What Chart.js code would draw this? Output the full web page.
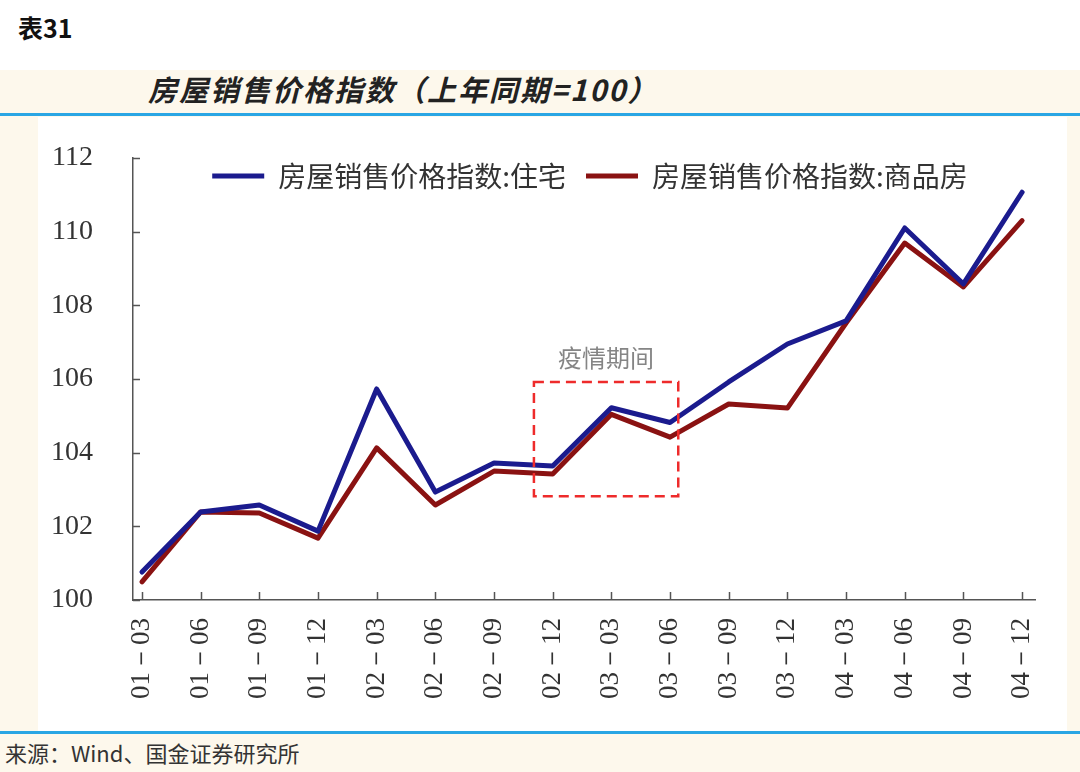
<!DOCTYPE html>
<html>
<head>
<meta charset="utf-8">
<script src="https://cdn.jsdelivr.net/npm/chart.js@4.4.1/dist/chart.umd.min.js"></script>
<style>
  body { margin: 0; width: 1080px; height: 772px; background: #fff; position: relative; overflow: hidden;
         font-family: "Noto Sans CJK SC", sans-serif; }
  .tag { position: absolute; left: 18px; top: 9px; font-size: 25px; font-weight: bold; color: #111; line-height: 36px; }
  .panel { position: absolute; left: 0; top: 70px; width: 1080px; height: 702px; background: #fdf8ec; }
  .title { position: absolute; left: 148px; top: 68px; height: 43px; line-height: 40px; font-size: 29px;
           font-weight: bold; font-style: italic; color: #222; letter-spacing: 2px; }
  .rule { position: absolute; left: 0; width: 1080px; height: 3px; background: #2aa6e4; }
  .plot { position: absolute; left: 38px; top: 117px; width: 1029px; height: 614px; background: #fff; }
  .source { position: absolute; left: 5px; top: 736px; font-size: 22px; color: #333; line-height: 32px; }
</style>
</head>
<body>
<div class="tag">表31</div>
<div class="panel"></div>
<div class="title">房屋销售价格指数（上年同期=100）</div>
<div class="rule" style="top:113px"></div>
<div class="plot"><canvas id="chart" width="1029" height="614"></canvas></div>
<div class="rule" style="top:731px"></div>
<div class="source">来源：Wind、国金证券研究所</div>
<script>
// quarters (yy-mm)
var labels = ['01-03', '01-06', '01-09', '01-12', '02-03', '02-06', '02-09', '02-12',
              '03-03', '03-06', '03-09', '03-12', '04-03', '04-06', '04-09', '04-12'];
// 房屋销售价格指数:住宅
var residential = [100.76, 102.39, 102.58, 101.87, 105.73, 102.93, 103.72, 103.64,
                   105.22, 104.82, 105.92, 106.95, 107.58, 110.10, 108.58, 111.07];
// 房屋销售价格指数:商品房
var commercial = [100.49, 102.39, 102.36, 101.68, 104.13, 102.58, 103.50, 103.42,
                  105.04, 104.42, 105.32, 105.21, 107.52, 109.69, 108.50, 110.30];
var seriesNames = ['房屋销售价格指数:住宅', '房屋销售价格指数:商品房'];
var yMin = 100, yMax = 112, yStep = 2;
// dashed box marking the epidemic period, in data units
var epidemic = { xMin: 6.68, xMax: 9.14, yMin: 102.82, yMax: 105.92, text: '疫情期间' };

var serif = '"Liberation Serif", "Times New Roman", serif';
var axisColor = '#555';
var noColor = 'rgba(0,0,0,0)';

function toPoints(arr) {
  return arr.map(function (v, i) { return { x: i, y: v }; });
}

// small tick marks drawn on the inside of both axes
var innerTicks = {
  id: 'innerTicks',
  afterDraw: function (chart) {
    var ctx = chart.ctx, xs = chart.scales.x, ys = chart.scales.y, a = chart.chartArea;
    ctx.save();
    ctx.strokeStyle = axisColor;
    ctx.lineWidth = 1.5;
    ctx.beginPath();
    labels.forEach(function (l, i) {
      var px = Math.round(xs.getPixelForValue(i)) + 0.5;
      ctx.moveTo(px, a.bottom);
      ctx.lineTo(px, a.bottom - 8);
    });
    for (var v = yMin; v <= yMax; v += yStep) {
      var py = Math.round(ys.getPixelForValue(v)) + 0.5;
      ctx.moveTo(a.left, py);
      ctx.lineTo(a.left + 7, py);
    }
    ctx.stroke();
    ctx.restore();
  }
};

var epidemicBox = {
  id: 'epidemicBox',
  afterDatasetsDraw: function (chart) {
    var ctx = chart.ctx, xs = chart.scales.x, ys = chart.scales.y;
    var x1 = xs.getPixelForValue(epidemic.xMin), x2 = xs.getPixelForValue(epidemic.xMax);
    var y1 = ys.getPixelForValue(epidemic.yMax), y2 = ys.getPixelForValue(epidemic.yMin);
    ctx.save();
    ctx.strokeStyle = '#ee2b2b';
    ctx.lineWidth = 2.5;
    ctx.setLineDash([10, 6]);
    ctx.strokeRect(x1, y1, x2 - x1, y2 - y1);
    ctx.setLineDash([]);
    ctx.fillStyle = '#858585';
    ctx.font = '24px "Noto Sans CJK SC", sans-serif';
    ctx.textAlign = 'center';
    ctx.textBaseline = 'middle';
    ctx.fillText(epidemic.text, (x1 + x2) / 2, y1 - 24);
    ctx.restore();
  }
};

// let the legend overlap the top of the plot area
var legendOverlap = {
  id: 'legendOverlap',
  beforeLayout: function (chart) {
    var lg = chart.legend;
    if (!lg || lg._patched) return;
    var fit = lg.fit, draw = lg.draw;
    lg.fit = function () { fit.call(this); this.height = 16; };
    lg.draw = function () {
      var b = this.bottom, l = this.left, r = this.right;
      this.bottom = b + 80;
      this.left = l + 6;
      this.right = r + 6;
      draw.call(this);
      this.bottom = b;
      this.left = l;
      this.right = r;
    };
    lg._patched = true;
  }
};

new Chart(document.getElementById('chart'), {
  type: 'line',
  data: {
    datasets: [{
      label: seriesNames[0],
      data: toPoints(residential),
      borderColor: '#1b1b8e',
      backgroundColor: '#1b1b8e',
      borderWidth: 5,
      pointRadius: 0,
      tension: 0,
      borderJoinStyle: 'round',
      borderCapStyle: 'round'
    }, {
      label: seriesNames[1],
      data: toPoints(commercial),
      borderColor: '#8a1212',
      backgroundColor: '#8a1212',
      borderWidth: 5,
      pointRadius: 0,
      tension: 0,
      borderJoinStyle: 'round',
      borderCapStyle: 'round'
    }]
  },
  options: {
    responsive: false,
    animation: false,
    layout: { padding: { left: 15, right: 32, top: 25, bottom: 0 } },
    plugins: {
      tooltip: { enabled: false },
      legend: {
        position: 'top',
        fullSize: false,
        labels: {
          usePointStyle: true,
          pointStyle: 'line',
          pointStyleWidth: 52,
          padding: 20,
          color: '#333',
          font: { family: '"Noto Sans CJK SC", sans-serif', size: 28 }
        }
      }
    },
    scales: {
      x: {
        type: 'linear',
        min: -0.153,
        max: 15.22,
        afterBuildTicks: function (axis) {
          axis.ticks = labels.map(function (l, i) { return { value: i }; });
        },
        afterFit: function (axis) { axis.height = 131; },
        grid: { drawOnChartArea: false, drawTicks: true, tickLength: 18, tickColor: noColor },
        border: { display: true, color: axisColor, width: 1.5 },
        ticks: {
          autoSkip: false,
          minRotation: 90,
          maxRotation: 90,
          padding: 0,
          color: '#333',
          font: { family: serif, size: 27 },
          callback: function (v) { return labels[v] ? labels[v].replace('-', '－') : ''; }
        }
      },
      y: {
        min: yMin,
        max: yMax,
        afterFit: function (axis) { axis.width = 80; },
        grid: { drawOnChartArea: false, drawTicks: true, tickLength: 40, tickColor: noColor },
        border: { display: true, color: axisColor, width: 1.5 },
        ticks: {
          stepSize: yStep,
          padding: 0,
          color: '#333',
          font: { family: serif, size: 28 }
        }
      }
    }
  },
  plugins: [innerTicks, epidemicBox, legendOverlap]
});
</script>
</body>
</html>
